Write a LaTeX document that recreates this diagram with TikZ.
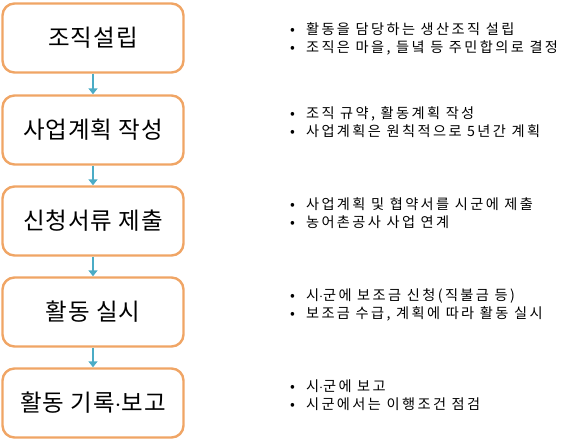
\documentclass[tikz,border=0pt]{standalone}
\usepackage{fontspec}
\setmainfont{Noto Sans CJK KR}
\newfontfamily\boxfont[LetterSpace=4]{Noto Sans CJK KR}
\newfontfamily\notefont[LetterSpace=17]{Noto Sans CJK KR}
\usetikzlibrary{arrows.meta}
\definecolor{boxorange}{HTML}{F0A565}
\definecolor{arrowblue}{HTML}{4BACC6}
\tikzset{
  x=1pt, y=1pt,
  stepbox/.style={draw=boxorange, line width=2.4pt, rounded corners=12pt, fill=white,
    minimum width=181pt, minimum height=69pt, font=\boxfont\fontsize{23.5}{27}\selectfont},
  notes/.style={anchor=west, font=\notefont\fontsize{14.2}{18}\selectfont, inner sep=0pt},
  flow/.style={draw=arrowblue, line width=2pt, -{Triangle[width=9pt,length=6pt]}}
}
\newcommand{\twobul}[2]{\begin{tabular}{@{}l@{\hspace{11pt}}l@{}}\textbullet & #1\\ \textbullet & #2\end{tabular}}
\begin{document}
\begin{tikzpicture}
\useasboundingbox (0,0) rectangle (577,-442);
\node[stepbox] (b1) at (93,-38) {조직설립};
\node[stepbox] (b2) at (93,-130) {사업계획 작성};
\node[stepbox] (b3) at (93,-221) {신청서류 제출};
\node[stepbox] (b4) at (93,-312) {활동 실시};
\node[stepbox] (b5) at (93,-403) {활동 기록$\cdot$보고};
\draw[flow] (b1.south) -- (b2.north);
\draw[flow] (b2.south) -- (b3.north);
\draw[flow] (b3.south) -- (b4.north);
\draw[flow] (b4.south) -- (b5.north);
\node[notes] (n1) at (290,-40) {\twobul{활동을 담당하는 생산조직 설립}{조직은 마을, 들녘 등 주민합의로 결정}};
\node[notes] (n2) at (290,-124) {\twobul{조직 규약, 활동계획 작성}{사업계획은 원칙적으로 5년간 계획}};
\node[notes] (n3) at (290,-215) {\twobul{사업계획 및 협약서를 시군에 제출}{농어촌공사 사업 연계}};
\node[notes] (n4) at (290,-306) {\twobul{시$\cdot$군에 보조금 신청(직불금 등)}{보조금 수급, 계획에 따라 활동 실시}};
\node[notes] (n5) at (290,-397) {\twobul{시$\cdot$군에 보고}{시군에서는 이행조건 점검}};
\end{tikzpicture}
\end{document}
